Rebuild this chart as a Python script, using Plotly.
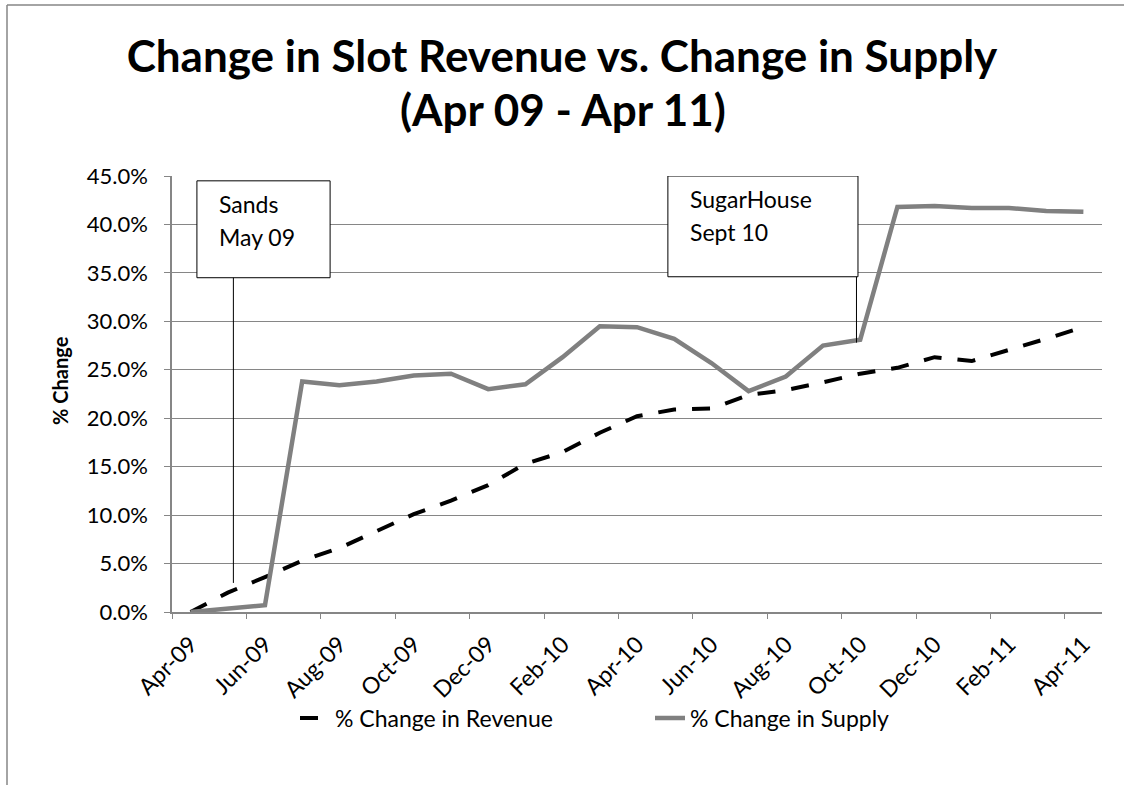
import plotly.graph_objects as go

# Monthly observations, Apr-09 through Apr-11
months = ["Apr-09", "May-09", "Jun-09", "Jul-09", "Aug-09", "Sep-09", "Oct-09",
          "Nov-09", "Dec-09", "Jan-10", "Feb-10", "Mar-10", "Apr-10", "May-10",
          "Jun-10", "Jul-10", "Aug-10", "Sep-10", "Oct-10", "Nov-10", "Dec-10",
          "Jan-11", "Feb-11", "Mar-11", "Apr-11"]

# Cumulative % change in slot revenue
revenue_pct = [0.0, 2.0, 3.6, 5.3, 6.6, 8.3, 10.1, 11.5, 13.1, 15.3, 16.5, 18.5,
               20.2, 20.9, 21.0, 22.4, 22.9, 23.7, 24.6, 25.2, 26.3, 25.9, 27.0,
               28.2, 29.4]

# Cumulative % change in slot supply
supply_pct = [0.0, 0.3, 0.7, 23.8, 23.4, 23.8, 24.4, 24.6, 23.0, 23.5, 26.3, 29.5,
              29.4, 28.2, 25.7, 22.8, 24.3, 27.5, 28.1, 41.8, 41.9, 41.7, 41.7,
              41.4, 41.3]

y_ticks = [0, 5, 10, 15, 20, 25, 30, 35, 40, 45]
y_tick_text = [f"{v:.1f}%" for v in y_ticks]

title_lines = ["Change in Slot Revenue vs. Change in Supply", "(Apr 09 - Apr 11)"]

FONT = "Lato"
GRID = "#868686"

fig = go.Figure()
fig.add_trace(go.Scatter(
    x=months, y=revenue_pct, mode="lines", name="% Change in Revenue",
    line=dict(color="black", width=4, dash="18px,16px"),
))
fig.add_trace(go.Scatter(
    x=months, y=supply_pct, mode="lines", name="% Change in Supply",
    line=dict(color="#808080", width=4.5),
))

# Event callouts: boxed label with a leader line down to the series
callouts = [
    # (lines of text, box x0, box x1, box y0, box y1, leader x, leader bottom y)
    (["Sands", "May 09"], 0.17, 3.75, 34.5, 44.5, 1.15, 3.0),
    (["SugarHouse", "Sept 10"], 12.83, 17.94, 34.6, 45.0, 17.9, 27.8),
]
for lines, bx0, bx1, by0, by1, lx, ly in callouts:
    fig.add_shape(type="rect", xref="x", yref="y", x0=bx0, x1=bx1, y0=by0, y1=by1,
                  line=dict(color="black", width=1), fillcolor="white", layer="above")
    fig.add_shape(type="line", xref="x", yref="y", x0=lx, x1=lx, y0=by0, y1=ly,
                  line=dict(color="black", width=1), layer="above")
    for i, t in enumerate(lines):
        fig.add_annotation(xref="x", yref="y", x=bx0 + 0.55, y=by1 - 2.4 - 3.4 * i,
                           text=t, showarrow=False, xanchor="left", yanchor="middle",
                           font=dict(family=FONT, size=23, color="black"))

# Second title line (first line is the layout title)
fig.add_annotation(xref="paper", yref="paper", x=(563 - 172) / 930,
                   y=(612 - 109) / 436, text=f"<b>{title_lines[1]}</b>",
                   showarrow=False, xanchor="center", yanchor="middle",
                   font=dict(family=FONT, size=44, color="black"))

# Y-axis title
fig.add_annotation(xref="paper", yref="paper", x=(60 - 172) / 930, y=0.53,
                   text="<b>% Change</b>", textangle=-90, showarrow=False,
                   xanchor="center", yanchor="middle",
                   font=dict(family=FONT, size=20, color="black"))

# Outer chart frame: left and top edges
frame_x = (7 - 172) / 930
frame_top = (612 - 5) / 436
fig.add_shape(type="line", xref="paper", yref="paper",
              x0=frame_x, x1=frame_x, y0=-0.6, y1=frame_top,
              line=dict(color=GRID, width=1.5))
fig.add_shape(type="line", xref="paper", yref="paper",
              x0=frame_x, x1=1.3, y0=frame_top, y1=frame_top,
              line=dict(color=GRID, width=1.5))

fig.update_layout(
    width=1124, height=785,
    margin=dict(l=172, r=22, t=176, b=173),
    paper_bgcolor="white", plot_bgcolor="white",
    font=dict(family=FONT, color="black"),
    title=dict(
        text=f"<b>{title_lines[0]}</b>",
        x=0.5, xref="container", xanchor="center",
        y=1 - 57 / 785, yref="container", yanchor="middle",
        font=dict(family=FONT, size=44, color="black"),
    ),
    showlegend=True,
    legend=dict(orientation="h", x=(295 - 172) / 930, y=-0.243,
                xanchor="left", yanchor="middle",
                font=dict(family=FONT, size=23, color="black"),
                entrywidth=310, entrywidthmode="pixels",
                traceorder="normal", bgcolor="rgba(0,0,0,0)"),
    xaxis=dict(
        type="category", categoryorder="array", categoryarray=months,
        range=[-0.5, len(months) - 0.5],
        tickson="boundaries", dtick=2, tickangle=-45,
        ticks="outside", ticklen=5, tickcolor=GRID, ticklabelstandoff=8,
        showgrid=False, showline=True, linecolor=GRID, linewidth=1.5,
        tickfont=dict(family=FONT, size=23, color="black"),
        zeroline=False,
    ),
    yaxis=dict(
        range=[0, 45], tickvals=y_ticks, ticktext=y_tick_text,
        ticks="outside", ticklen=6, tickcolor=GRID, ticklabelstandoff=12,
        showgrid=True, gridcolor=GRID, gridwidth=1.2,
        showline=True, linecolor=GRID, linewidth=1.5, zeroline=False,
        tickfont=dict(family=FONT, size=22, color="black"),
    ),
)

fig.write_html("out.html")
